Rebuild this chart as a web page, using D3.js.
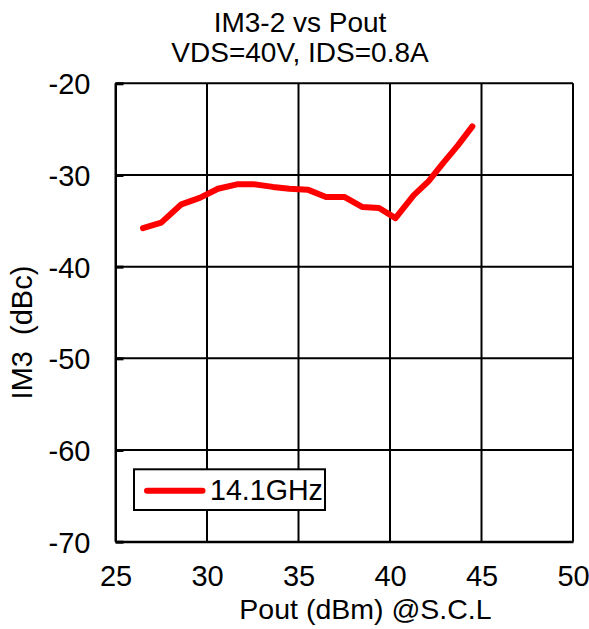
<!DOCTYPE html>
<html><head><meta charset="utf-8">
<script src="https://cdn.jsdelivr.net/npm/d3@7"></script>
<style>body{margin:0;background:#fff}text{font-family:"Liberation Sans",Arial,sans-serif;fill:#000}</style>
</head><body>
<svg id="c" width="589" height="629"></svg>
<script>
const pout = [26.5,27.5,28.6,29.6,30.6,31.7,32.5,33.6,34.5,35.5,36.5,37.5,38.5,39.4,40.3,41.3,42.1,42.9,43.7,44.5];
const im3  = [-35.8,-35.2,-33.2,-32.5,-31.5,-31.0,-31.0,-31.3,-31.5,-31.6,-32.4,-32.4,-33.5,-33.6,-34.7,-32.2,-30.7,-28.7,-26.8,-24.7];
const xTicks = [25,30,35,40,45,50];
const yTicks = [-20,-30,-40,-50,-60,-70];
const seriesName = "14.1GHz";
const titleLines = ["IM3-2 vs Pout","VDS=40V, IDS=0.8A"];
const xLabel = "Pout (dBm) @S.C.L";
const yLabel = "IM3  (dBc)";

const svg = d3.select("#c");
const L=115.5, R=573, T=83.3, B=541.7;
const x = d3.scaleLinear().domain([25,50]).range([L,R]);
const y = d3.scaleLinear().domain([-70,-20]).range([B,T]);

// grid
svg.append("g").selectAll("line").data(xTicks).join("line")
  .attr("x1",d=>x(d)).attr("x2",d=>x(d)).attr("y1",T).attr("y2",B)
  .attr("stroke","#000").attr("stroke-width",2);
svg.append("g").selectAll("line").data(yTicks).join("line")
  .attr("x1",L).attr("x2",R).attr("y1",d=>y(d)).attr("y2",d=>y(d))
  .attr("stroke","#000").attr("stroke-width",2);

// axes
const xa = svg.append("g").attr("transform",`translate(0,${B})`)
  .call(d3.axisBottom(x).tickValues(xTicks).tickSize(0).tickFormat(d=>String(d)));
xa.select(".domain").attr("stroke","#000").attr("stroke-width",2);
xa.selectAll("text").attr("font-size",29).attr("fill","#000").attr("y",586-B).attr("dy",0);
const ya = svg.append("g").attr("transform",`translate(${L},0)`)
  .call(d3.axisLeft(y).tickValues(yTicks).tickSizeInner(-8).tickSizeOuter(0).tickFormat(d=>String(d)));
ya.select(".domain").attr("stroke","#000").attr("stroke-width",2);
ya.selectAll(".tick line").attr("stroke","#000").attr("stroke-width",3);
ya.selectAll("text").attr("font-size",29).attr("fill","#000").attr("x",-25).attr("dy","0.36em");

// line
svg.append("path").datum(pout.map((p,i)=>[p,im3[i]]))
  .attr("d",d3.line().x(d=>x(d[0])).y(d=>y(d[1])))
  .attr("fill","none").attr("stroke","#ff0000").attr("stroke-width",6)
  .attr("stroke-linejoin","round").attr("stroke-linecap","round");

// title
svg.selectAll(".title").data(titleLines).join("text")
  .attr("x",300).attr("y",(d,i)=>31.7+i*30.3).attr("text-anchor","middle")
  .attr("font-size",28).text(d=>d);

// axis labels
svg.append("text").attr("x",365.5).attr("y",619).attr("text-anchor","middle").attr("font-size",28.5).text(xLabel);
svg.append("text").attr("transform","translate(32,332.5) rotate(-90)").attr("text-anchor","middle")
  .attr("font-size",29).style("white-space","pre").attr("xml:space","preserve").text(yLabel);

// legend
const lg = svg.append("g");
lg.append("rect").attr("x",134).attr("y",469.3).attr("width",191).attr("height",40.7)
  .attr("fill","#fff").attr("stroke","#000").attr("stroke-width",2);
lg.append("line").attr("x1",147).attr("x2",202.5).attr("y1",490.7).attr("y2",490.7)
  .attr("stroke","#ff0000").attr("stroke-width",6).attr("stroke-linecap","round");
lg.append("text").attr("x",210).attr("y",500).attr("font-size",28.6).text(seriesName);
</script>
</body></html>
